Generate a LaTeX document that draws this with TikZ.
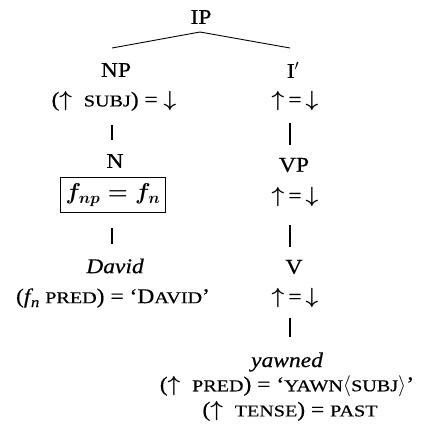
\RequirePackage{fix-cm}
\documentclass[tikz,border=0pt]{standalone}
\usepackage{fontspec}
\setmainfont[FakeStretch=1.12,FakeBold=0.5]{Liberation Serif}
\newfontfamily\scfam[FakeStretch=1.22,FakeBold=0.5]{Liberation Serif}
\newcommand{\smc}[1]{{\scfam\fontsize{16.5}{16.5}\selectfont #1}}
\newcommand{\up}{{\fontsize{22}{22}\selectfont\boldmath$\uparrow$}}
\newcommand{\dn}{{\fontsize{22}{22}\selectfont\boldmath$\downarrow$}}
\newcommand{\fsb}[1]{{\itshape f\kern0.5pt\raisebox{-4pt}{\fontsize{15}{15}\selectfont #1}}}
\begin{document}
\begin{tikzpicture}[x=1pt,y=-1pt,
  every node/.style={inner sep=0pt, font=\fontsize{21}{23}\selectfont},
  cat/.style={},
  eqn/.style={},
  word/.style={font=\fontsize{21}{23}\selectfont\itshape},
  boxed/.style={draw, line width=0.9pt, minimum width=105pt, minimum height=35pt,
    font=\fontsize{23}{25}\selectfont\boldmath},
  branch/.style={line width=0.9pt},
  vlink/.style={line width=1.2pt}]
\useasboundingbox (0,0) rectangle (426,440);
% nodes
\node[cat] (IP) at (201,17) {IP};
\node[cat] (NP) at (116,70) {NP};
\node[cat] (Ib) at (293,70) {I$'$};
\node[eqn] (a1) at (114,101) {(\up\ \ \smc{SUBJ}) = \dn};
\node[eqn] (a2) at (295,101) {\up\kern4pt=\kern4pt\dn};
\node[cat] (N) at (115,161) {N};
\node[cat] (VP) at (294,165) {VP};
\node[boxed] (fbox) at (113,195) {$f_{np} = f_n$};
\node[eqn] (a3) at (295,197) {\up\kern4pt=\kern4pt\dn};
\node[word] (David) at (115,266) {David};
\node[cat] (V) at (294,267) {V};
\node[eqn] (d2) at (113,298) {(\fsb{n} \smc{PRED}) = ‘D\smc{AVID}’};
\node[eqn] (a4) at (295,298) {\up\kern4pt=\kern4pt\dn};
\node[word] (yawned) at (287,362) {yawned};
\node[eqn] (p1) at (287,386) {(\up\ \ \smc{PRED}) = ‘\smc{YAWN}$\langle$\smc{SUBJ}$\rangle$’};
\node[eqn] (p2) at (290,411) {(\up\ \ \smc{TENSE}) = \smc{PAST}};
% branches
\coordinate (apex) at (200,32);
\coordinate (lend) at (112,48);
\coordinate (rend) at (290,48);
\draw[branch] (lend) -- (apex) -- (rend);
% vertical links
\draw[vlink, shorten <=24pt, shorten >=21pt] ([xshift=-3pt]N |- a1) -- ([xshift=-3pt]N.center);
\draw[vlink, shorten <=22pt, shorten >=20pt] ([xshift=-4pt]VP |- a2) -- ([xshift=-4pt]VP.center);
\draw[vlink, shorten <=33pt, shorten >=22pt] ([xshift=-3pt]David |- fbox) -- ([xshift=-3pt]David.center);
\draw[vlink, shorten <=28pt, shorten >=20pt] ([xshift=-4pt]V |- a3) -- ([xshift=-4pt]V.center);
\draw[vlink, shorten <=20pt, shorten >=25pt] ([xshift=3pt]yawned |- a4) -- ([xshift=3pt]yawned.center);
\end{tikzpicture}
\end{document}
